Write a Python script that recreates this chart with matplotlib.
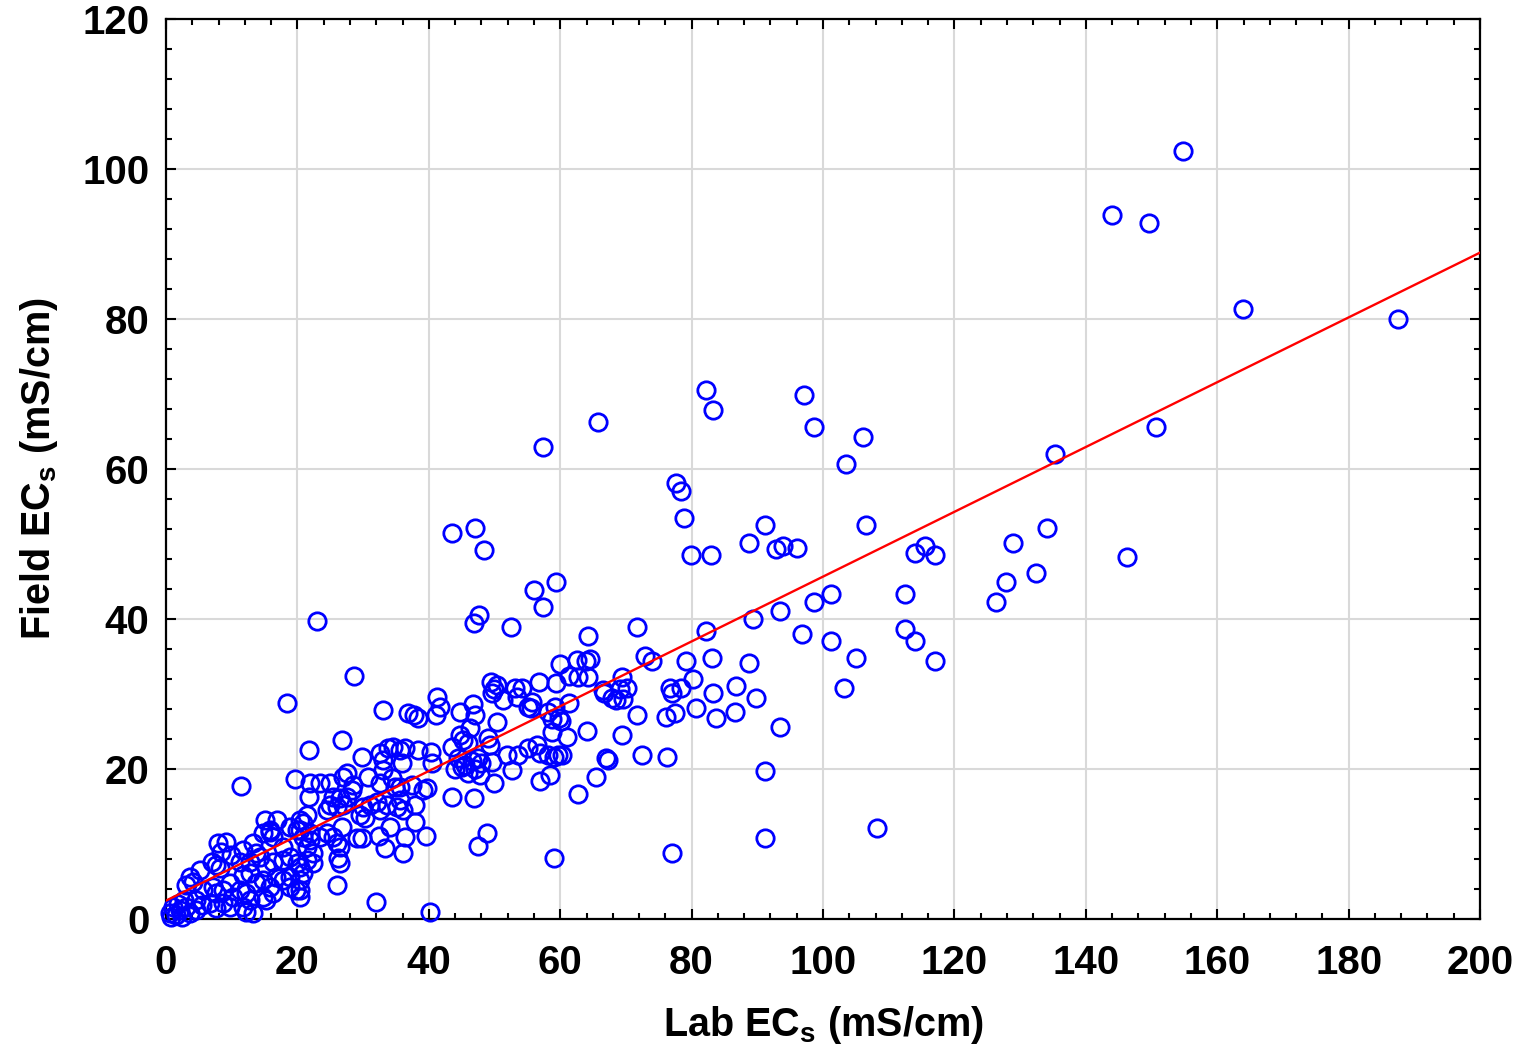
import numpy as np
import matplotlib
matplotlib.use('Agg')
import matplotlib.pyplot as plt
from matplotlib.ticker import MultipleLocator

plt.rcParams['font.family'] = ['Liberation Sans', 'DejaVu Sans']
plt.rcParams['font.weight'] = 'bold'
plt.rcParams['mathtext.fontset'] = 'custom'
plt.rcParams['mathtext.rm'] = 'Liberation Sans:bold'
plt.rcParams['mathtext.it'] = 'Liberation Sans:bold'
plt.rcParams['mathtext.bf'] = 'Liberation Sans:bold'

# lab EC (x) vs field EC (y)
lab_ec = [
    154.8, 144.0, 149.6, 163.9, 187.5, 150.7, 135.3, 146.3, 134.1, 128.9, 132.4, 127.9, 126.3,
    82.2, 83.3, 97.1, 98.6, 106.1, 103.5, 106.5, 91.2, 88.7, 92.8, 93.9, 96.0,
    77.6, 78.4, 78.8, 79.9, 83.0, 65.8, 57.4, 114.0, 115.5, 117.0, 112.5, 112.5, 114.0, 117.0,
    101.2, 98.6, 93.5, 89.3, 82.2, 101.2, 96.8, 105.0, 103.2, 108.2, 91.2, 91.2, 93.5, 89.8,
    88.8, 86.7, 83.1, 83.3, 83.7, 86.6, 80.7, 80.2, 79.1, 78.4, 76.7, 77.0, 77.4, 76.1, 76.2,
    77.0, 73.9, 72.9, 71.7, 71.7, 72.4, 69.4, 70.1, 69.1, 68.5, 67.9, 66.5, 69.4, 66.9, 67.2,
    65.4, 62.7, 64.2, 64.5, 63.9, 62.6, 64.2, 62.7, 60.0, 59.4, 61.3, 59.2, 58.1, 58.8, 59.8,
    61.0, 58.8, 59.6, 58.1, 59.0, 56.9, 58.4, 56.9, 59.0, 64.1, 59.4, 56.0, 57.4, 52.5, 47.0,
    43.5, 48.4, 47.6, 46.9, 23.0, 28.6, 18.4, 11.4, 33.0, 32.0, 40.2, 39.6, 48.9, 47.5, 46.9,
    49.9, 43.5, 33.3, 36.1, 32.4, 26.2, 26.0,
    61.3, 66.7, 69.6, 36.4, 37.9, 37.9, 35.6, 41.2, 41.7, 41.1, 36.8, 37.7, 38.4, 44.7, 46.7,
    47.0, 49.5, 50.4, 49.9, 49.6, 53.1, 54.2, 53.4, 56.8, 51.3, 55.1, 55.7, 55.6, 60.1, 50.4,
    46.3, 44.7, 45.2, 46.0, 49.0, 49.3, 43.5, 35.6, 36.4, 38.4, 40.3, 40.5,
    44.5, 45.5, 46.5, 47.0, 47.5, 46.0, 45.0, 47.8, 48.0, 44.0,
    49.6, 51.9, 53.6, 55.1, 56.5, 60.3, 52.7, 35.6, 37.4, 39.1, 39.7,
    26.8, 21.8, 29.8, 32.6, 33.8, 34.6, 35.9, 33.0, 27.5, 19.6, 21.9, 23.4, 25.0, 21.8, 28.5,
    28.3, 30.7, 33.0, 34.4, 25.4, 26.5, 27.5, 26.9, 25.0, 24.5, 30.0, 31.1, 32.1, 32.6, 33.6,
    29.5, 30.3, 35.2, 36.1, 34.1, 29.1, 29.8, 26.8, 25.4, 26.0, 26.5, 26.5, 21.9, 20.9, 19.9,
    16.9, 15.8, 17.8, 18.9, 19.9, 22.4,
    15.1, 14.8, 15.8, 16.3, 18.9, 7.9, 9.1, 8.4, 11.7, 13.2, 13.7, 7.6, 8.2, 11.3, 12.8, 14.3,
    15.2, 16.3, 17.8, 12.8, 11.7, 13.7, 14.8, 15.8, 16.7, 17.8, 18.9, 3.0, 4.1, 5.6, 7.2, 7.6,
    8.7, 9.7, 10.2, 11.3, 12.2, 4.6, 6.7, 7.6, 8.7, 9.7, 12.8, 11.7, 12.2, 13.2, 1.1, 2.1, 0.6,
    1.5, 3.0, 3.7, 16.3, 14.8, 15.2, 19.8, 20.4, 18.9,
    20.4, 20.9, 21.9, 21.5, 22.4, 21.5, 20.4, 20.4, 20.9, 23.4, 24.5, 20.4, 26.0, 21.5, 20.4,
    26.9, 32.6, 34.9, 3.7, 5.2, 7.0, 9.9,
    0.8, 2.5, 2.8, 4.5, 5.5, 1.8,
]
field_ec = [
    102.4, 93.9, 92.8, 81.3, 80.0, 65.6, 62.0, 48.3, 52.1, 50.1, 46.1, 44.9, 42.3,
    70.5, 67.9, 69.9, 65.6, 64.3, 60.7, 52.5, 52.5, 50.1, 49.3, 49.7, 49.5,
    58.1, 57.1, 53.5, 48.5, 48.5, 66.3, 62.9, 48.8, 49.7, 48.5, 43.3, 38.7, 37.1, 34.4,
    43.3, 42.3, 41.1, 40.0, 38.4, 37.1, 38.0, 34.8, 30.8, 12.1, 19.7, 10.8, 25.6, 29.5,
    34.1, 31.1, 34.8, 30.1, 26.8, 27.6, 28.1, 32.0, 34.4, 30.8, 30.8, 30.1, 27.5, 26.9, 21.6,
    8.8, 34.4, 35.1, 38.9, 27.2, 21.9, 32.3, 30.8, 30.7, 29.2, 29.5, 30.5, 24.5, 21.5, 21.2,
    18.9, 16.7, 37.7, 34.7, 34.4, 34.5, 32.3, 32.3, 34.0, 31.5, 28.8, 28.3, 27.6, 26.7, 26.8,
    24.3, 24.9, 21.9, 21.9, 21.6, 22.1, 19.2, 18.4, 8.1, 25.1, 44.9, 43.9, 41.6, 38.9, 52.1,
    51.5, 49.2, 40.5, 39.5, 39.7, 32.4, 28.8, 17.7, 27.9, 2.3, 0.9, 11.1, 11.5, 9.7, 16.1,
    18.1, 16.3, 9.5, 8.8, 11.1, 8.1, 4.5,
    32.4, 30.1, 29.3, 10.9, 12.9, 15.2, 15.9, 29.6, 28.3, 27.2, 27.5, 27.2, 26.8, 27.6, 28.7,
    27.2, 31.6, 31.2, 30.7, 30.1, 30.8, 30.8, 29.6, 31.6, 29.2, 28.3, 28.9, 28.1, 26.4, 26.3,
    25.5, 24.5, 23.9, 23.5, 24.1, 23.2, 22.9, 22.5, 22.8, 22.5, 22.3, 20.8,
    21.5, 20.5, 21.0, 20.0, 21.5, 19.5, 20.2, 19.2, 20.8, 20.0,
    20.9, 21.9, 21.9, 22.8, 23.2, 21.9, 19.9, 17.6, 17.9, 17.2, 17.5,
    23.9, 22.5, 21.6, 22.1, 22.8, 22.9, 20.8, 21.2, 19.5, 18.7, 18.1, 18.1, 18.1, 16.3, 17.9,
    17.2, 18.9, 19.9, 18.8, 16.3, 16.1, 16.3, 15.2, 15.2, 14.5, 14.9, 15.2, 15.6, 14.5, 15.2,
    13.9, 13.5, 14.9, 14.5, 12.3, 10.8, 10.8, 12.3, 10.9, 10.1, 9.6, 7.5, 11.5, 12.8, 11.9,
    13.2, 11.9, 9.6, 8.3, 7.5, 7.5,
    13.2, 11.5, 11.6, 10.9, 12.3, 10.1, 10.3, 8.9, 9.2, 10.1, 8.8, 7.2, 6.8, 7.6, 7.6, 8.3,
    6.9, 7.6, 7.9, 6.1, 5.9, 4.8, 5.2, 4.3, 5.6, 5.2, 4.3, 4.5, 4.9, 3.9, 4.3, 3.5,
    3.9, 4.8, 2.9, 3.9, 3.5, 2.5, 2.1, 1.5, 2.1, 1.6, 2.5, 1.6, 0.9, 0.8, 1.6, 1.2, 0.8,
    0.5, 1.6, 0.8, 3.5, 2.9, 2.5, 3.9, 2.9, 5.6,
    11.9, 10.9, 10.5, 9.6, 8.8, 7.9, 6.9, 5.2, 6.1, 10.9, 11.5, 3.9, 14.9, 13.9, 13.2,
    18.9, 18.1, 17.6, 5.6, 6.5, 7.6, 8.5,
    0.3, 0.3, 2.5, 1.2, 1.8, 2.0,
]

# fitted line
fit_intercept = 2.45
fit_slope = 0.432
fit_x = [0, 200]

fig = plt.figure(figsize=(15.23, 10.48), dpi=100)
ax = fig.add_axes([0.109, 0.1231, 0.8628, 0.8588])

ax.plot(lab_ec, field_ec, 'o', ms=12.5, mfc='none', mec='#0000ff', mew=2.0,
        linestyle='none', zorder=3, clip_on=False)
fx = np.array(fit_x)
ax.plot(fx, fit_intercept + fit_slope * fx, color='#ff0000', lw=1.7, zorder=4)

ax.set_xlim(0, 200)
ax.set_ylim(0, 120)
ax.xaxis.set_major_locator(MultipleLocator(20))
ax.xaxis.set_minor_locator(MultipleLocator(4))
ax.yaxis.set_major_locator(MultipleLocator(20))
ax.yaxis.set_minor_locator(MultipleLocator(4))
ax.grid(True, which='major', color='#d9d9d9', lw=1.5, zorder=0)
ax.set_axisbelow(True)

ax.tick_params(which='both', direction='in', top=True, right=True, width=1.5)
ax.tick_params(which='major', length=7)
ax.tick_params(which='minor', length=4)
ax.tick_params(axis='x', labelsize=29, pad=18)
ax.tick_params(axis='y', labelsize=29, pad=12)
for lab in ax.get_xticklabels() + ax.get_yticklabels():
    lab.set_fontweight('bold')
for sp in ax.spines.values():
    sp.set_linewidth(1.6)

ax.set_xlabel(r'Lab EC$_{s}$ (mS/cm)', fontsize=28.5, fontweight='bold', labelpad=16)
ax.set_ylabel(r'Field EC$_{s}$ (mS/cm)', fontsize=28.5, fontweight='bold', labelpad=16)

fig.savefig('out.png', dpi=100)
